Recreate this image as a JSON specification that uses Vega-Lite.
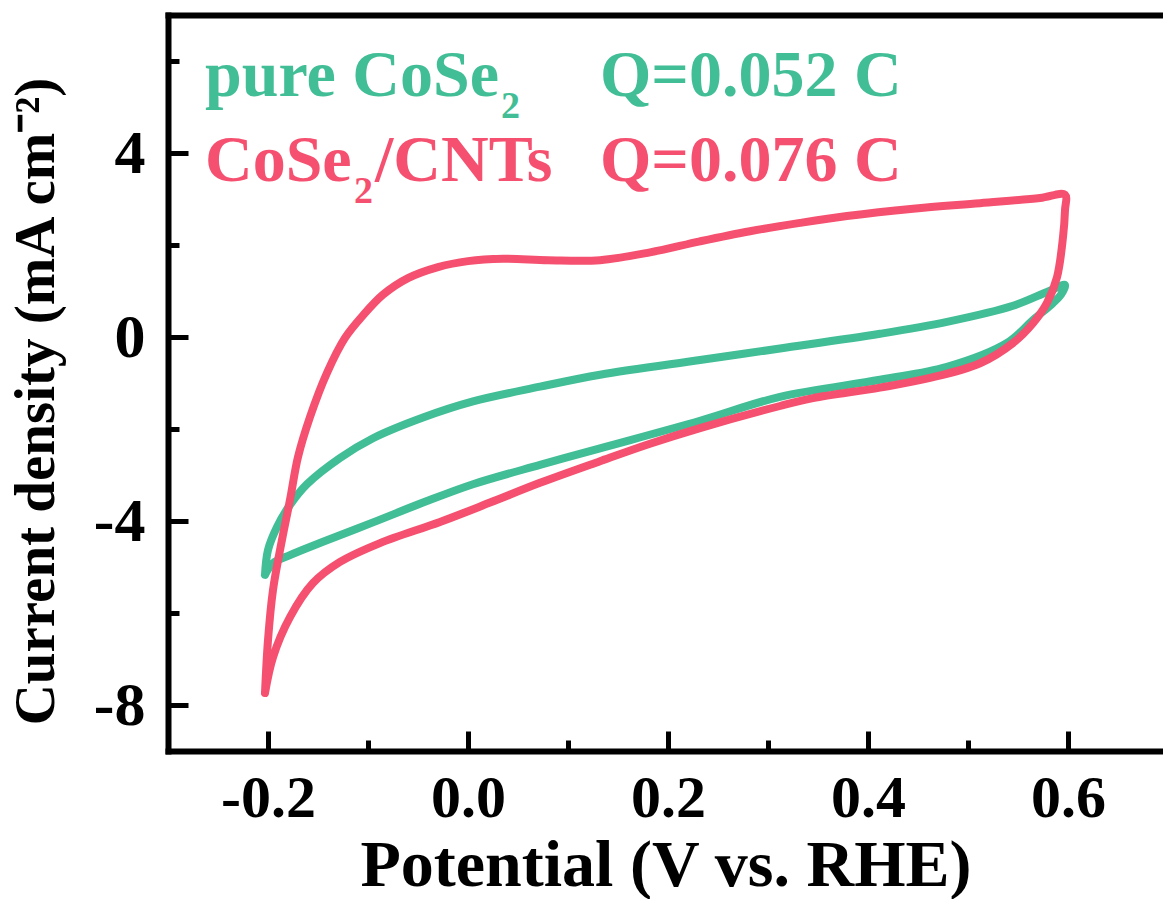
{
  "$schema": "https://vega.github.io/schema/vega-lite/v6.json",
  "autosize": {"type": "none"},
  "padding": {"left": 168, "top": 15, "right": 0, "bottom": 148},
  "width": 995,
  "height": 736,
  "background": "white",
  "config": {"view": {"stroke": null}, "font": "Liberation Serif"},
  "datasets": {
    "cv": [
      {"series": "pure CoSe2", "order": 1, "potential": -0.203, "current": -5.17},
      {"series": "pure CoSe2", "order": 2, "potential": -0.2, "current": -4.63},
      {"series": "pure CoSe2", "order": 3, "potential": -0.191, "current": -4.13},
      {"series": "pure CoSe2", "order": 4, "potential": -0.178, "current": -3.65},
      {"series": "pure CoSe2", "order": 5, "potential": -0.161, "current": -3.2},
      {"series": "pure CoSe2", "order": 6, "potential": -0.128, "current": -2.63},
      {"series": "pure CoSe2", "order": 7, "potential": -0.095, "current": -2.2},
      {"series": "pure CoSe2", "order": 8, "potential": -0.045, "current": -1.75},
      {"series": "pure CoSe2", "order": 9, "potential": 0.005, "current": -1.4},
      {"series": "pure CoSe2", "order": 10, "potential": 0.072, "current": -1.08},
      {"series": "pure CoSe2", "order": 11, "potential": 0.132, "current": -0.82},
      {"series": "pure CoSe2", "order": 12, "potential": 0.232, "current": -0.5},
      {"series": "pure CoSe2", "order": 13, "potential": 0.312, "current": -0.25},
      {"series": "pure CoSe2", "order": 14, "potential": 0.412, "current": 0.07},
      {"series": "pure CoSe2", "order": 15, "potential": 0.479, "current": 0.33},
      {"series": "pure CoSe2", "order": 16, "potential": 0.545, "current": 0.68},
      {"series": "pure CoSe2", "order": 17, "potential": 0.579, "current": 0.98},
      {"series": "pure CoSe2", "order": 18, "potential": 0.597, "current": 1.13},
      {"series": "pure CoSe2", "order": 19, "potential": 0.593, "current": 0.92},
      {"series": "pure CoSe2", "order": 20, "potential": 0.585, "current": 0.74},
      {"series": "pure CoSe2", "order": 21, "potential": 0.565, "current": 0.37},
      {"series": "pure CoSe2", "order": 22, "potential": 0.539, "current": -0.13},
      {"series": "pure CoSe2", "order": 23, "potential": 0.479, "current": -0.65},
      {"series": "pure CoSe2", "order": 24, "potential": 0.412, "current": -0.93},
      {"series": "pure CoSe2", "order": 25, "potential": 0.312, "current": -1.3},
      {"series": "pure CoSe2", "order": 26, "potential": 0.232, "current": -1.82},
      {"series": "pure CoSe2", "order": 27, "potential": 0.132, "current": -2.42},
      {"series": "pure CoSe2", "order": 28, "potential": 0.072, "current": -2.78},
      {"series": "pure CoSe2", "order": 29, "potential": 0.005, "current": -3.2},
      {"series": "pure CoSe2", "order": 30, "potential": -0.045, "current": -3.6},
      {"series": "pure CoSe2", "order": 31, "potential": -0.095, "current": -4.03},
      {"series": "pure CoSe2", "order": 32, "potential": -0.145, "current": -4.45},
      {"series": "pure CoSe2", "order": 33, "potential": -0.178, "current": -4.74},
      {"series": "pure CoSe2", "order": 34, "potential": -0.195, "current": -4.92},
      {"series": "pure CoSe2", "order": 35, "potential": -0.203, "current": -5.17},
      {"series": "CoSe2/CNTs", "order": 1, "potential": -0.203, "current": -7.74},
      {"series": "CoSe2/CNTs", "order": 2, "potential": -0.2, "current": -6.59},
      {"series": "CoSe2/CNTs", "order": 3, "potential": -0.195, "current": -5.5},
      {"series": "CoSe2/CNTs", "order": 4, "potential": -0.186, "current": -4.41},
      {"series": "CoSe2/CNTs", "order": 5, "potential": -0.178, "current": -3.54},
      {"series": "CoSe2/CNTs", "order": 6, "potential": -0.17, "current": -2.61},
      {"series": "CoSe2/CNTs", "order": 7, "potential": -0.158, "current": -1.74},
      {"series": "CoSe2/CNTs", "order": 8, "potential": -0.141, "current": -0.78},
      {"series": "CoSe2/CNTs", "order": 9, "potential": -0.123, "current": -0.02},
      {"series": "CoSe2/CNTs", "order": 10, "potential": -0.105, "current": 0.47},
      {"series": "CoSe2/CNTs", "order": 11, "potential": -0.085, "current": 0.92},
      {"series": "CoSe2/CNTs", "order": 12, "potential": -0.06, "current": 1.28},
      {"series": "CoSe2/CNTs", "order": 13, "potential": -0.03, "current": 1.52},
      {"series": "CoSe2/CNTs", "order": 14, "potential": 0.0, "current": 1.65},
      {"series": "CoSe2/CNTs", "order": 15, "potential": 0.035, "current": 1.7},
      {"series": "CoSe2/CNTs", "order": 16, "potential": 0.08, "current": 1.67},
      {"series": "CoSe2/CNTs", "order": 17, "potential": 0.132, "current": 1.67},
      {"series": "CoSe2/CNTs", "order": 18, "potential": 0.182, "current": 1.84},
      {"series": "CoSe2/CNTs", "order": 19, "potential": 0.232, "current": 2.08},
      {"series": "CoSe2/CNTs", "order": 20, "potential": 0.282, "current": 2.3},
      {"series": "CoSe2/CNTs", "order": 21, "potential": 0.332, "current": 2.48},
      {"series": "CoSe2/CNTs", "order": 22, "potential": 0.379, "current": 2.63},
      {"series": "CoSe2/CNTs", "order": 23, "potential": 0.445, "current": 2.79},
      {"series": "CoSe2/CNTs", "order": 24, "potential": 0.512, "current": 2.91},
      {"series": "CoSe2/CNTs", "order": 25, "potential": 0.572, "current": 3.02},
      {"series": "CoSe2/CNTs", "order": 26, "potential": 0.597, "current": 3.09},
      {"series": "CoSe2/CNTs", "order": 27, "potential": 0.597, "current": 2.76},
      {"series": "CoSe2/CNTs", "order": 28, "potential": 0.595, "current": 2.17},
      {"series": "CoSe2/CNTs", "order": 29, "potential": 0.589, "current": 1.3},
      {"series": "CoSe2/CNTs", "order": 30, "potential": 0.579, "current": 0.74},
      {"series": "CoSe2/CNTs", "order": 31, "potential": 0.565, "current": 0.3},
      {"series": "CoSe2/CNTs", "order": 32, "potential": 0.545, "current": -0.13},
      {"series": "CoSe2/CNTs", "order": 33, "potential": 0.512, "current": -0.57},
      {"series": "CoSe2/CNTs", "order": 34, "potential": 0.462, "current": -0.89},
      {"series": "CoSe2/CNTs", "order": 35, "potential": 0.412, "current": -1.1},
      {"series": "CoSe2/CNTs", "order": 36, "potential": 0.345, "current": -1.33},
      {"series": "CoSe2/CNTs", "order": 37, "potential": 0.312, "current": -1.5},
      {"series": "CoSe2/CNTs", "order": 38, "potential": 0.232, "current": -1.98},
      {"series": "CoSe2/CNTs", "order": 39, "potential": 0.182, "current": -2.32},
      {"series": "CoSe2/CNTs", "order": 40, "potential": 0.132, "current": -2.7},
      {"series": "CoSe2/CNTs", "order": 41, "potential": 0.072, "current": -3.17},
      {"series": "CoSe2/CNTs", "order": 42, "potential": 0.022, "current": -3.6},
      {"series": "CoSe2/CNTs", "order": 43, "potential": -0.028, "current": -4.02},
      {"series": "CoSe2/CNTs", "order": 44, "potential": -0.088, "current": -4.48},
      {"series": "CoSe2/CNTs", "order": 45, "potential": -0.128, "current": -4.89},
      {"series": "CoSe2/CNTs", "order": 46, "potential": -0.155, "current": -5.35},
      {"series": "CoSe2/CNTs", "order": 47, "potential": -0.178, "current": -6.09},
      {"series": "CoSe2/CNTs", "order": 48, "potential": -0.195, "current": -6.96},
      {"series": "CoSe2/CNTs", "order": 49, "potential": -0.203, "current": -7.74}
    ],
    "labels": [
      {"series": "pure CoSe2", "kind": "main", "text": "pure CoSe", "potential": -0.263, "current": 5.24},
      {"series": "pure CoSe2", "kind": "sub", "text": "2", "potential": 0.033, "current": 4.76},
      {"series": "pure CoSe2", "kind": "main", "text": "Q=0.052 C", "potential": 0.132, "current": 5.24},
      {"series": "CoSe2/CNTs", "kind": "main", "text": "CoSe", "potential": -0.263, "current": 3.391},
      {"series": "CoSe2/CNTs", "kind": "sub", "text": "2", "potential": -0.114, "current": 2.913},
      {"series": "CoSe2/CNTs", "kind": "main", "text": "/CNTs", "potential": -0.093, "current": 3.391},
      {"series": "CoSe2/CNTs", "kind": "main", "text": "Q=0.076 C", "potential": 0.132, "current": 3.391}
    ]
  },
  "layer": [
    {
      "data": {"name": "cv"},
      "mark": {"type": "line", "strokeWidth": 8, "strokeCap": "round", "strokeJoin": "round", "interpolate": "catmull-rom"},
      "encoding": {
        "x": {
          "field": "potential", "type": "quantitative",
          "scale": {"domain": [-0.3, 0.695], "nice": false, "zero": false},
          "axis": {
            "orient": "bottom",
            "values": [-0.2, 0, 0.2, 0.4, 0.6],
            "format": ".1f",
            "labelExpr": "replace(datum.label, '\u2212', '-')",
            "grid": false,
            "tickSize": -20, "tickWidth": 5, "tickColor": "black",
            "domainWidth": 6, "domainColor": "black", "domainCap": "square",
            "labelFont": "Liberation Serif", "labelFontWeight": "bold", "labelFontSize": 60, "labelColor": "black",
            "labelPadding": 38, "labelFlush": false, "labelOverlap": false,
            "title": "Potential (V vs. RHE)",
            "titleFont": "Liberation Serif", "titleFontWeight": "bold", "titleFontSize": 66, "titleColor": "black",
            "titlePadding": 5
          }
        },
        "y": {
          "field": "current", "type": "quantitative",
          "scale": {"domain": [-9, 7], "nice": false, "zero": false},
          "axis": {
            "orient": "left",
            "values": [-8, -4, 0, 4],
            "labelExpr": "replace(datum.label, '\u2212', '-')",
            "grid": false,
            "tickSize": -20, "tickWidth": 5, "tickColor": "black",
            "domainWidth": 6, "domainColor": "black", "domainCap": "square",
            "labelFont": "Liberation Serif", "labelFontWeight": "bold", "labelFontSize": 62, "labelColor": "black",
            "labelPadding": 43, "labelFlush": false, "labelOverlap": false,
            "title": "Current density (mA cm\u207b\u00b2)",
            "titleFont": "Liberation Serif", "titleFontWeight": "bold", "titleFontSize": 57, "titleColor": "black",
            "titlePadding": 28, "titleY": 386
          }
        },
        "color": {
          "field": "series", "type": "nominal",
          "scale": {"domain": ["pure CoSe2", "CoSe2/CNTs"], "range": ["#41BE96", "#F5506F"]},
          "legend": null
        },
        "order": {"field": "order", "type": "quantitative"}
      }
    },
    {
      "data": {"name": "cv"},
      "mark": {"type": "point", "opacity": 0},
      "encoding": {
        "x": {
          "field": "potential", "type": "quantitative",
          "scale": {"domain": [-0.3, 0.695], "nice": false, "zero": false},
          "axis": {
            "orient": "bottom", "values": [-0.1, 0.1, 0.3, 0.5],
            "labels": false, "domain": false, "grid": false, "title": null,
            "tickSize": -11, "tickWidth": 5, "tickColor": "black"
          }
        },
        "y": {
          "field": "current", "type": "quantitative",
          "scale": {"domain": [-9, 7], "nice": false, "zero": false},
          "axis": {
            "orient": "left", "values": [-6, -2, 2, 6],
            "labels": false, "domain": false, "grid": false, "title": null,
            "tickSize": -11, "tickWidth": 5, "tickColor": "black"
          }
        }
      }
    },
    {
      "data": {"name": "cv"},
      "mark": {"type": "point", "opacity": 0},
      "encoding": {
        "x": {
          "field": "potential", "type": "quantitative",
          "scale": {"domain": [-0.3, 0.695], "nice": false, "zero": false},
          "axis": {
            "orient": "top", "labels": false, "ticks": false, "grid": false, "title": null,
            "domain": true, "domainWidth": 6, "domainColor": "black", "domainCap": "square"
          }
        },
        "y": {
          "field": "current", "type": "quantitative",
          "scale": {"domain": [-9, 7], "nice": false, "zero": false},
          "axis": null
        }
      }
    },
    {
      "data": {"name": "labels"},
      "transform": [{"filter": "datum.kind === 'main'"}],
      "mark": {"type": "text", "align": "left", "baseline": "alphabetic", "font": "Liberation Serif", "fontWeight": "bold", "fontSize": 66},
      "encoding": {
        "x": {"field": "potential", "type": "quantitative", "axis": null},
        "y": {"field": "current", "type": "quantitative", "axis": null},
        "text": {"field": "text"},
        "color": {"field": "series", "type": "nominal", "legend": null}
      }
    },
    {
      "data": {"name": "labels"},
      "transform": [{"filter": "datum.kind === 'sub'"}],
      "mark": {"type": "text", "align": "left", "baseline": "alphabetic", "font": "Liberation Serif", "fontWeight": "bold", "fontSize": 38},
      "encoding": {
        "x": {"field": "potential", "type": "quantitative", "axis": null},
        "y": {"field": "current", "type": "quantitative", "axis": null},
        "text": {"field": "text"},
        "color": {"field": "series", "type": "nominal", "legend": null}
      }
    }
  ],
  "resolve": {"axis": {"x": "independent", "y": "independent"}}
}
